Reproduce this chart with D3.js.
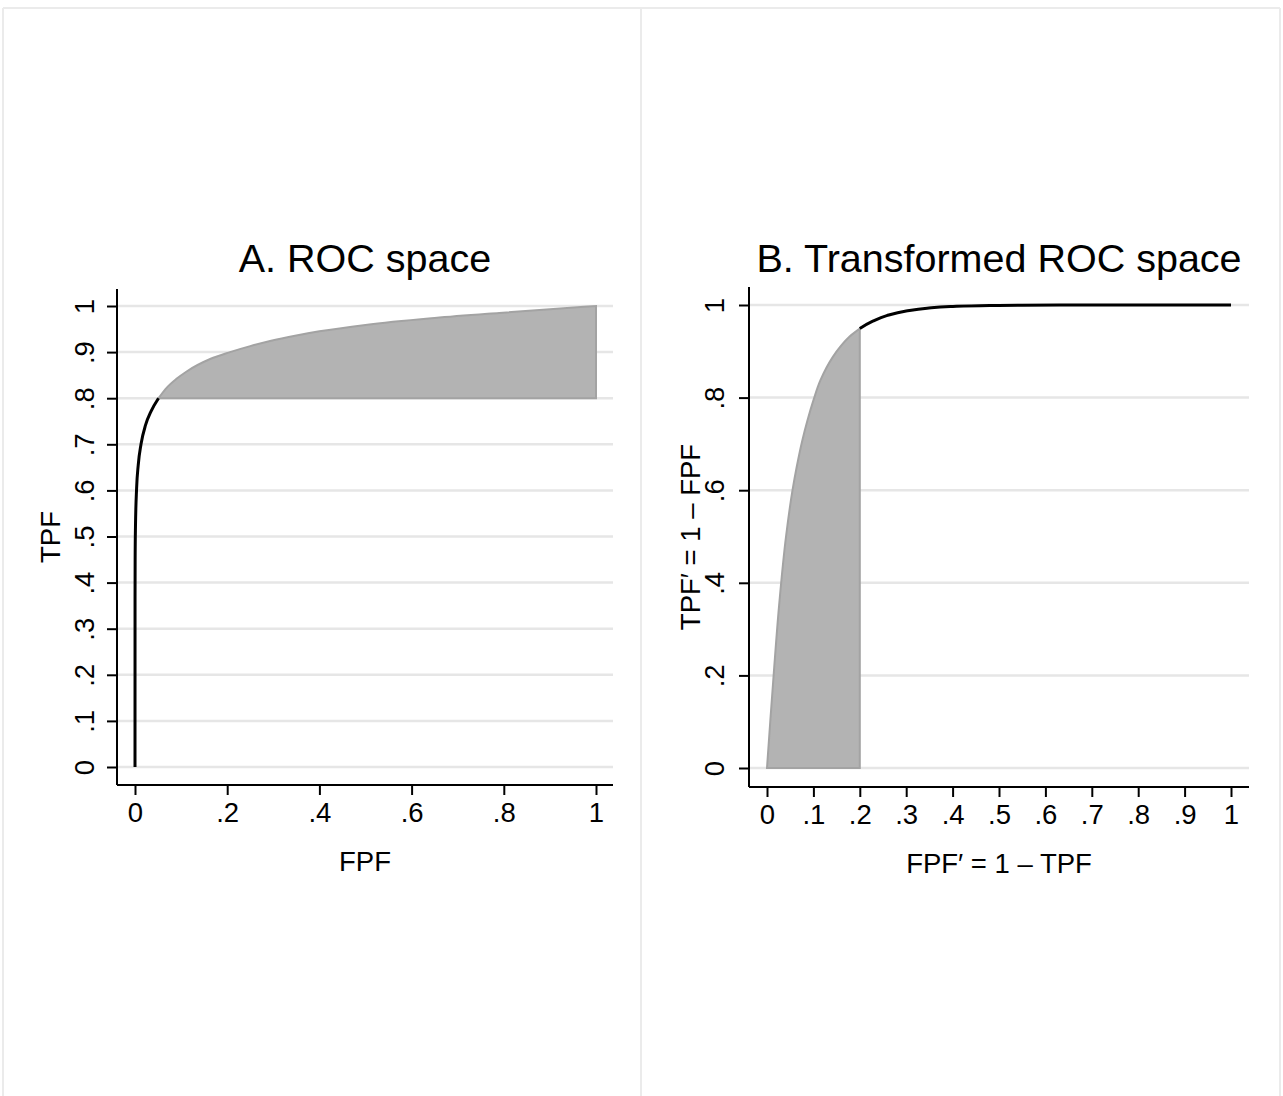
<!DOCTYPE html>
<html>
<head>
<meta charset="utf-8">
<script src="https://cdn.jsdelivr.net/npm/d3@7"></script>
<style>
  body { margin: 0; background: #fff; }
  text { font-family: "Liberation Sans", Arial, sans-serif; fill: #000; }
</style>
</head>
<body>
<div id="chart"></div>
<script>
// ROC curve (FPF, TPF pairs)
const fpf = [0, 0.0001, 0.0003, 0.001, 0.0035, 0.007, 0.013, 0.023, 0.035, 0.051, 0.069, 0.09, 0.112, 0.163, 0.206, 0.25, 0.293, 0.35, 0.40, 0.50, 0.65, 0.79, 0.9, 1];
const tpf = [0, 0.37, 0.45, 0.52, 0.605, 0.655, 0.70, 0.742, 0.772, 0.80, 0.823, 0.842, 0.858, 0.885, 0.90, 0.913, 0.924, 0.936, 0.945, 0.959, 0.974, 0.985, 0.993, 1];
const cutTPF = 0.8;

const titles = ["A. ROC space", "B. Transformed ROC space"];
const xTitles = ["FPF", "FPF\u2032 = 1 \u2013 TPF"];
const yTitles = ["TPF", "TPF\u2032 = 1 \u2013 FPF"];
const xTicksA = [0, 0.2, 0.4, 0.6, 0.8, 1];
const yTicksA = [0, 0.1, 0.2, 0.3, 0.4, 0.5, 0.6, 0.7, 0.8, 0.9, 1];
const xTicksB = [0, 0.1, 0.2, 0.3, 0.4, 0.5, 0.6, 0.7, 0.8, 0.9, 1];
const yTicksB = [0, 0.2, 0.4, 0.6, 0.8, 1];

const W = 1283, H = 1096;
const svg = d3.select("#chart").append("svg")
  .attr("width", W)
  .attr("height", H);

svg.append("rect").attr("width", W).attr("height", H).attr("fill", "#fff");

// panel borders
const frame = svg.append("g").attr("stroke", "#ebebeb").attr("stroke-width", 2).attr("fill", "none");
frame.append("line").attr("x1", 3).attr("x2", 1280).attr("y1", 8).attr("y2", 8);
[3, 641, 1280].forEach(x => frame.append("line").attr("x1", x).attr("x2", x).attr("y1", 8).attr("y2", H));

// stata style labels: .2 instead of 0.2
const fmt = d => d === 0 ? "0" : d === 1 ? "1" : d3.format(".1f")(d).replace(/^0/, "");

const pts = fpf.map((f, i) => ({ f: f, t: tpf[i] }));

function drawPanel(cfg) {
  const g = svg.append("g");
  const x = d3.scaleLinear().domain([0, 1]).range(cfg.xr);
  const y = d3.scaleLinear().domain([0, 1]).range(cfg.yr);

  // gridlines
  g.append("g").selectAll("line")
    .data(cfg.yTicks)
    .join("line")
    .attr("x1", cfg.left).attr("x2", cfg.right)
    .attr("y1", d => y(d)).attr("y2", d => y(d))
    .attr("stroke", "#e6e6e6")
    .attr("stroke-width", 2.5);

  // shaded area
  g.append("path")
    .datum(cfg.shade)
    .attr("d", d3.area().x(d => x(d[0])).y0(y(cfg.base)).y1(d => y(d[1])).curve(cfg.curve))
    .attr("fill", "#b3b3b3")
    .attr("stroke", "#a3a3a3")
    .attr("stroke-width", 2);

  // curve
  g.append("path")
    .datum(cfg.line)
    .attr("d", d3.line().x(d => x(d[0])).y(d => y(d[1])).curve(cfg.curve))
    .attr("fill", "none")
    .attr("stroke", "#000")
    .attr("stroke-width", 3);

  // axes
  const xAxis = g.append("g")
    .attr("transform", `translate(0,${cfg.bottom})`)
    .call(d3.axisBottom(x).tickValues(cfg.xTicks).tickFormat(fmt).tickSize(10).tickPadding(7));
  xAxis.select(".domain").attr("d", `M${cfg.left},0H${cfg.right}`).attr("stroke-width", 2);
  xAxis.selectAll(".tick line").attr("stroke-width", 2);
  xAxis.selectAll(".tick text").attr("font-size", 27.5).attr("font-family", "Liberation Sans, Arial, sans-serif").attr("dy", "0.71em");

  const yAxis = g.append("g")
    .attr("transform", `translate(${cfg.left},0)`)
    .call(d3.axisLeft(y).tickValues(cfg.yTicks).tickFormat(fmt).tickSize(10));
  yAxis.select(".domain").attr("d", `M0,${cfg.top}V${cfg.bottom}`).attr("stroke-width", 2);
  yAxis.selectAll(".tick line").attr("stroke-width", 2);
  yAxis.selectAll(".tick text")
    .attr("font-size", 27.5)
    .attr("font-family", "Liberation Sans, Arial, sans-serif")
    .attr("x", null).attr("dy", null)
    .attr("text-anchor", "middle")
    .attr("transform", `translate(${-cfg.ylabOff},0) rotate(-90)`);

  const cx = (cfg.left + cfg.right) / 2;
  const cy = (cfg.top + cfg.bottom) / 2;

  g.append("text")
    .attr("x", cx).attr("y", 272)
    .attr("text-anchor", "middle")
    .attr("font-size", 39.5)
    .text(cfg.title);

  g.append("text")
    .attr("x", cx).attr("y", cfg.bottom + 86)
    .attr("text-anchor", "middle")
    .attr("font-size", 27.5)
    .text(cfg.xTitle);

  g.append("text")
    .attr("transform", `translate(${cfg.ytitleX},${cy}) rotate(-90)`)
    .attr("text-anchor", "middle")
    .attr("font-size", 27.5)
    .text(cfg.yTitle);
}

// panel A: ROC space
const shadeA = pts.filter(p => p.t >= cutTPF).map(p => [p.f, p.t]);
const lineA = pts.filter(p => p.t <= cutTPF).map(p => [p.f, p.t]);
drawPanel({
  left: 117, right: 613, top: 289, bottom: 785,
  xr: [135, 596], yr: [767, 306],
  xTicks: xTicksA, yTicks: yTicksA,
  shade: shadeA, line: lineA, base: cutTPF,
  curve: d3.curveMonotoneX,
  title: titles[0], xTitle: xTitles[0], yTitle: yTitles[0],
  ylabOff: 23, ytitleX: 60
});

// panel B: transformed ROC space (FPF' = 1 - TPF, TPF' = 1 - FPF)
const ptsB = pts.map(p => ({ x: 1 - p.t, y: 1 - p.f, t: p.t })).reverse();
const shadeB = ptsB.filter(p => p.t >= cutTPF).map(p => [p.x, p.y]);
const lineB = ptsB.filter(p => p.t <= cutTPF).map(p => [p.x, p.y]);
drawPanel({
  left: 749, right: 1249, top: 287, bottom: 787,
  xr: [767, 1231], yr: [768, 305],
  xTicks: xTicksB, yTicks: yTicksB,
  shade: shadeB, line: lineB, base: 0,
  curve: d3.curveMonotoneY,
  title: titles[1], xTitle: xTitles[1], yTitle: yTitles[1],
  ylabOff: 25, ytitleX: 700
});
</script>
</body>
</html>
